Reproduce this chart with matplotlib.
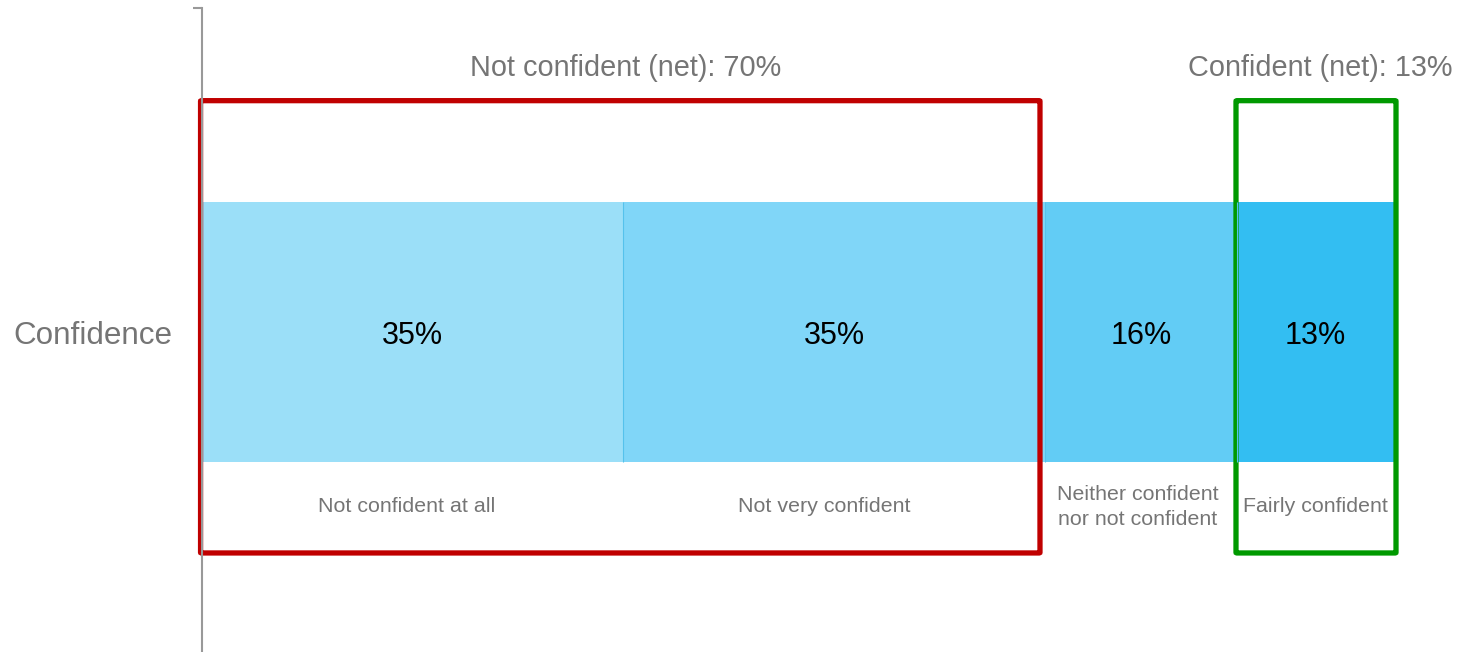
import matplotlib
matplotlib.use("Agg")
import matplotlib.pyplot as plt
from matplotlib.patches import FancyBboxPatch
import numpy as np

plt.rcParams['font.family'] = ['Liberation Sans', 'DejaVu Sans']

category = "Confidence"
segments = ["Not confident at all", "Not very confident",
            "Neither confident\nnor not confident", "Fairly confident"]
values = [35, 35, 16, 13]
value_labels = ["35%", "35%", "16%", "13%"]
colors = ["#9BDFF8", "#80D6F8", "#62CCF5", "#33BEF2"]
net_labels = ["Not confident (net): 70%", "Confident (net): 13%"]
net_groups = [(0, 1), (3, 3)]
net_colors = ["#C00000", "#009900"]

W, H = 1470, 652
fig = plt.figure(figsize=(W / 100, H / 100), dpi=100)
x0, x1 = 202, 1470
y_top, y_bot = 8, 656
ax = fig.add_axes([x0 / W, 1 - y_bot / H, (x1 - x0) / W, (y_bot - y_top) / H])

px_per = 12.04
ax.set_xlim(0, (x1 - x0) / px_per)
ax.set_ylim(-0.5, 0.5)

gray = "#757575"
lefts = np.concatenate([[0], np.cumsum(values)[:-1]])
cum = np.cumsum(values)
bar_h = 0.4
ax.barh([0] * len(values), values, left=lefts, height=bar_h, color=colors,
        linewidth=0)
# thin dividers between segments
ax.vlines(cum[:-1], -bar_h / 2, bar_h / 2, colors="#55C2EC", linewidth=0.8)

label_dx = [-0.5, -0.8, -0.3, 0.0]
for l, v, lab, seg, dx in zip(lefts, values, value_labels, segments, label_dx):
    ax.text(l + v / 2, -0.006, lab, ha="center", va="center", fontsize=22, color="black")
    ax.text(l + v / 2 + dx, -0.27, seg, ha="center", va="center", fontsize=15.4,
            color=gray, linespacing=1.42)

box_top, box_bot = 0.357, -0.341
pads = [(-0.12, -0.4), (-0.12, 0.17)]
for (a, b), lab, col, (pl, pr) in zip(net_groups, net_labels, net_colors, pads):
    xs = lefts[a] + pl
    xe = cum[b] + pr
    p = FancyBboxPatch((xs, box_bot), xe - xs, box_top - box_bot,
                       boxstyle="round,pad=0,rounding_size=0.1",
                       fill=False, edgecolor=col, linewidth=3.8,
                       clip_on=False, mutation_aspect=0.01)
    ax.add_patch(p)
    ax.text((lefts[a] + cum[b]) / 2 + (0.4 if a == 3 else 0.2), 0.407, lab,
            ha="center", va="center", fontsize=20.8, color=gray)

for s in ["top", "right", "bottom"]:
    ax.spines[s].set_visible(False)
ax.spines["left"].set_color("#999999")
ax.spines["left"].set_linewidth(1.5)
ax.set_xticks([])
ax.set_yticks([0])
ax.set_yticklabels([category], fontsize=22.6, color=gray)
ax.tick_params(axis="y", which="major", length=0, pad=21)
ax.set_yticks([-0.5, 0.5], minor=True)
ax.tick_params(axis="y", which="minor", length=6.5, width=1.5, color="#999999")

fig.savefig("out.png", dpi=100)
